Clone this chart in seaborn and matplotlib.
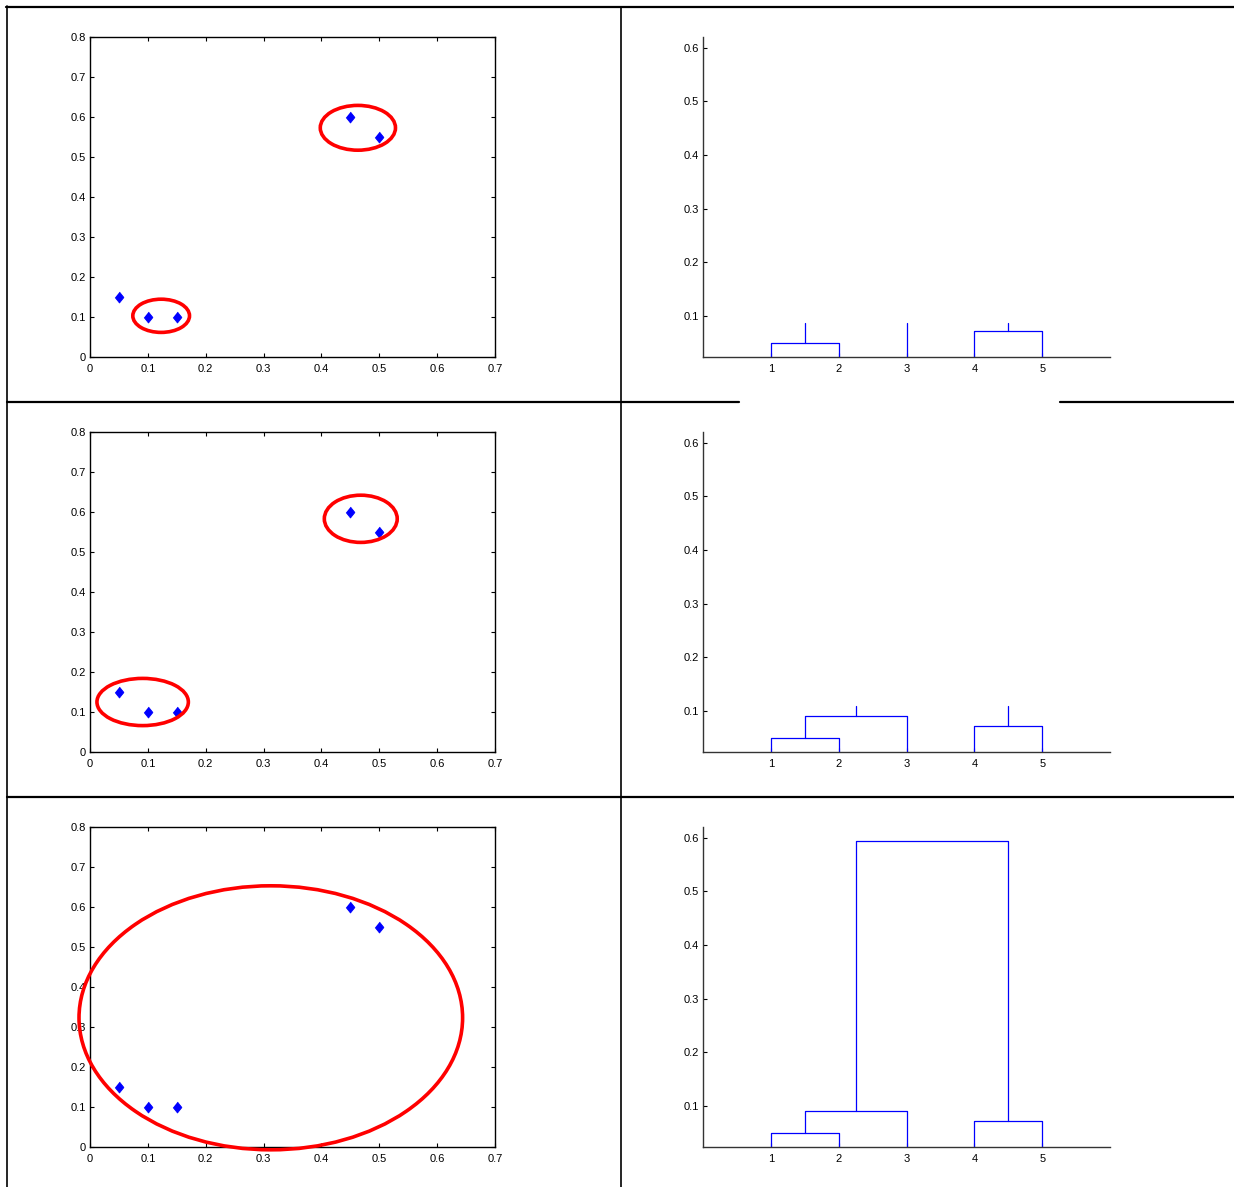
import matplotlib
matplotlib.use("Agg")
import matplotlib.pyplot as plt
from matplotlib.patches import Ellipse
from matplotlib.lines import Line2D
import seaborn as sns
import pandas as pd

# ---------------- data ----------------
pts_x = [0.05, 0.10, 0.15, 0.45, 0.50]
pts_y = [0.15, 0.10, 0.10, 0.60, 0.55]

x_ticks = [0, 0.1, 0.2, 0.3, 0.4, 0.5, 0.6, 0.7]
y_ticks = [0, 0.1, 0.2, 0.3, 0.4, 0.5, 0.6, 0.7, 0.8]
leaf_labels = ["1", "2", "3", "4", "5"]
dendro_yticks = [0.1, 0.2, 0.3, 0.4, 0.5, 0.6]

# cluster ellipses per step: (center x, center y, width, height)
step1_ellipses = [(0.123, 0.103, 0.098, 0.083), (0.463, 0.573, 0.130, 0.112)]
step2_ellipses = [(0.091, 0.125, 0.158, 0.118), (0.468, 0.583, 0.126, 0.118)]
step3_ellipses = [(0.3125, 0.323, 0.663, 0.660)]

# dendrogram links per step: (left leaf pos, right leaf pos, left base, right base, merge height)
step1_links = [(1, 2, 0.0, 0.0, 0.050), (4, 5, 0.0, 0.0, 0.071)]
step2_links = [(1, 2, 0.0, 0.0, 0.050), (1.5, 3, 0.050, 0.0, 0.090), (4, 5, 0.0, 0.0, 0.071)]
step3_links = [(1, 2, 0.0, 0.0, 0.050), (1.5, 3, 0.050, 0.0, 0.090), (4, 5, 0.0, 0.0, 0.071),
               (2.25, 4.5, 0.090, 0.071, 0.594)]

# open branches (not yet merged): (pos, from, to)
step1_stubs = [(1.5, 0.050, 0.086), (3, 0.0, 0.086), (4.5, 0.071, 0.086)]
step2_stubs = [(2.25, 0.090, 0.108), (4.5, 0.071, 0.108)]
step3_stubs = []

steps = [
    (step1_ellipses, step1_links, step1_stubs),
    (step2_ellipses, step2_links, step2_stubs),
    (step3_ellipses, step3_links, step3_stubs),
]

# ---------------- style ----------------
sns.set_style("white")
plt.rcParams["font.family"] = ["Liberation Sans", "DejaVu Sans"]
plt.rcParams["font.size"] = 8

W, H = 1234, 1187
fig = plt.figure(figsize=(W / 100, H / 100), dpi=100)

points = pd.DataFrame({"x": pts_x, "y": pts_y})
diamond = [(0, 1), (0.8, 0), (0, -1), (-0.8, 0)]

row_bottoms = [357, 752, 1147]  # pixel rows of axes bottoms


def fx(px):
    return px / W


def fy(py):
    return 1 - py / H


for (ells, links, stubs), bot in zip(steps, row_bottoms):
    # scatter panel
    ax = fig.add_axes([fx(90), fy(bot), fx(405), 320 / H])
    sns.scatterplot(data=points, x="x", y="y", ax=ax, marker=diamond, s=62,
                    color="#0000ff", edgecolor="#0000ff", linewidth=0.6, zorder=3)
    ax.set_xlim(0, 0.7)
    ax.set_ylim(0, 0.8)
    ax.set_xticks(x_ticks)
    ax.set_yticks(y_ticks)
    ax.set_xticklabels([f"{v:g}" for v in x_ticks])
    ax.set_yticklabels([f"{v:g}" for v in y_ticks])
    ax.set_xlabel("")
    ax.set_ylabel("")
    for s in ax.spines.values():
        s.set_visible(True)
        s.set_color("black")
        s.set_linewidth(1.0)
    ax.tick_params(direction="in", length=3, width=0.8, top=True, right=True,
                   bottom=True, left=True, labelsize=8, colors="black")
    ax.tick_params(axis="x", pad=5)
    ax.tick_params(axis="y", pad=3)
    for cx, cy, ew, eh in ells:
        ax.add_patch(Ellipse((cx, cy), ew, eh, fill=False, edgecolor="#ff0000",
                             linewidth=2.6, clip_on=False, zorder=5))

    # dendrogram panel
    dx = fig.add_axes([fx(703), fy(bot), fx(407), 320 / H])
    for l, r, lb, rb, h in links:
        dx.plot([l, l, r, r], [lb, h, h, rb], color="#0000ff", linewidth=0.9)
    for p, y0, y1 in stubs:
        dx.plot([p, p], [y0, y1], color="#0000ff", linewidth=0.9)
    dx.set_xlim(0, 6)
    dx.set_ylim(0.023, 0.62)
    dx.set_xticks(range(1, 6))
    dx.set_xticklabels(leaf_labels)
    dx.set_yticks(dendro_yticks)
    dx.set_yticklabels([f"{v:g}" for v in dendro_yticks])
    for side in ["top", "right"]:
        dx.spines[side].set_visible(False)
    for side in ["left", "bottom"]:
        dx.spines[side].set_visible(True)
        dx.spines[side].set_color("#333333")
        dx.spines[side].set_linewidth(1.0)
    dx.tick_params(direction="in", length=3, width=0.8, bottom=True, left=True,
                   labelsize=8, colors="black")
    dx.tick_params(axis="x", pad=5)
    dx.tick_params(axis="y", pad=3)

# table borders around the panels
border = dict(color="black", transform=fig.transFigure)
fig.add_artist(Line2D([fx(6), fx(1234)], [fy(7), fy(7)], linewidth=1.6, **border))
fig.add_artist(Line2D([fx(7), fx(7)], [fy(6), fy(1187)], linewidth=1.2, **border))
fig.add_artist(Line2D([fx(621), fx(621)], [fy(7), fy(1187)], linewidth=1.2, **border))
fig.add_artist(Line2D([fx(7), fx(739)], [fy(402), fy(402)], linewidth=1.6, **border))
fig.add_artist(Line2D([fx(1060), fx(1234)], [fy(402), fy(402)], linewidth=1.6, **border))
fig.add_artist(Line2D([fx(7), fx(1234)], [fy(797), fy(797)], linewidth=1.6, **border))

fig.savefig("out.png", dpi=100)
